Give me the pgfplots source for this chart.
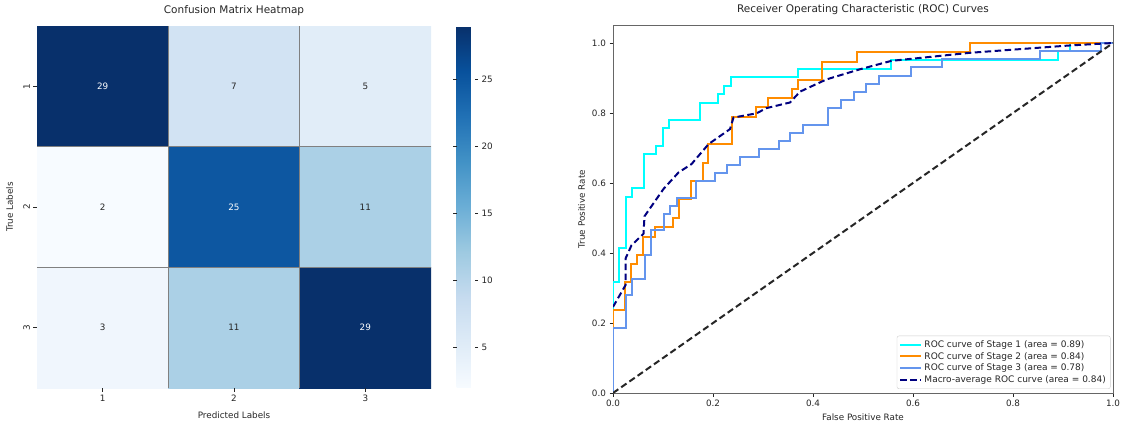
\documentclass[border=0pt]{standalone}
\usepackage{fontspec}
\setmainfont{DejaVu Sans}
\usepackage{pgfplots}
\pgfplotsset{compat=1.18}
\definecolor{txt}{RGB}{38,38,38}
\definecolor{rocaqua}{RGB}{0,255,255}
\definecolor{rocorange}{RGB}{255,140,0}
\definecolor{rocblue}{RGB}{100,149,237}
\definecolor{rocnavy}{RGB}{0,0,128}
\begin{document}
\begin{tikzpicture}
\useasboundingbox (0,0) rectangle (1125pt,421pt);
\begin{axis}[
  at={(37pt,33pt)}, anchor=south west,
  scale only axis, width=394pt, height=362pt,
  xmin=0.5, xmax=3.5, ymin=0.5, ymax=3.5, y dir=reverse,
  xtick={1,2,3}, ytick={1,2,3},
  yticklabel style={rotate=90},
  tick align=outside, tick pos=left,
  major tick length=3.5pt,
  tick style={draw=txt, line width=0.6pt},
  axis line style={draw=none},
  ticklabel style={font=\fontsize{8.8}{10}\selectfont, text=txt},
  /pgf/number format/assume math mode=true,
  title={Confusion Matrix Heatmap},
  title style={font=\fontsize{10.5}{12}\selectfont, text=txt, yshift=1pt},
  xlabel={Predicted Labels}, ylabel={True Labels},
  label style={font=\fontsize{8.8}{10}\selectfont, text=txt},
  axis on top,
  colormap={blues}{rgb255=(247,251,255) rgb255=(222,235,247) rgb255=(198,219,239) rgb255=(158,202,225) rgb255=(107,174,214) rgb255=(66,146,198) rgb255=(33,113,181) rgb255=(8,81,156) rgb255=(8,48,107)},
  point meta min=2, point meta max=29,
  colorbar,
  colorbar style={
    at={(parent axis.north east)}, anchor=north west, xshift=17pt,
    width=18pt, height=362pt, scale only axis,
    ytick={5,10,15,20,25},
    axis line style={draw=none},
    tick align=outside, major tick length=3.5pt,
    ytick style={draw=txt, line width=0.6pt},
    yticklabel style={font=\fontsize{8.8}{10}\selectfont, text=txt},
    /pgf/number format/assume math mode=true,
  },
  extra x ticks={1.5,2.5}, extra x tick labels={},
  extra y ticks={1.5,2.5}, extra y tick labels={},
  extra tick style={grid=major, major grid style={draw=gray, line width=1pt}, major tick length=0pt},
]
\addplot[matrix plot, mesh/cols=3, point meta=explicit] table[meta=c] {
x y c
1 1 29
2 1 7
3 1 5
1 2 2
2 2 25
3 2 11
1 3 3
2 3 11
3 3 29
};
\addplot[only marks, mark=text, text mark={}, nodes near coords, point meta=explicit symbolic, nodes near coords align=center, every node near coord/.append style={font=\fontsize{8.8}{10}\selectfont, text=white}] table[meta=c] {
x y c
1 1 29
2 2 25
3 3 29
};
\addplot[only marks, mark=text, text mark={}, nodes near coords, point meta=explicit symbolic, nodes near coords align=center, every node near coord/.append style={font=\fontsize{8.8}{10}\selectfont, text=txt}] table[meta=c] {
x y c
2 1 7
3 1 5
1 2 2
3 2 11
1 3 3
2 3 11
};
\end{axis}

\begin{axis}[
  at={(613pt,28pt)}, anchor=south west,
  scale only axis, width=500pt, height=367.5pt,
  xmin=0, xmax=1, ymin=0, ymax=1.05,
  xtick={0,0.2,0.4,0.6,0.8,1}, ytick={0,0.2,0.4,0.6,0.8,1},
  xticklabel style={/pgf/number format/.cd, fixed, fixed zerofill, precision=1},
  yticklabel style={/pgf/number format/.cd, fixed, fixed zerofill, precision=1},
  /pgf/number format/assume math mode=true,
  tick align=outside, tick pos=left,
  major tick length=3.5pt,
  tick style={draw=txt, line width=0.6pt},
  axis line style={draw=black!60, line width=0.7pt},
  ticklabel style={font=\fontsize{8.8}{10}\selectfont, text=txt},
  title={Receiver Operating Characteristic (ROC) Curves},
  title style={font=\fontsize{10.5}{12}\selectfont, text=txt, yshift=1pt},
  xlabel={False Positive Rate}, ylabel={True Positive Rate},
  label style={font=\fontsize{8.8}{10}\selectfont, text=txt},
  legend style={at={(0.995,0.011)}, anchor=south east, draw=black!20, rounded corners=2pt, font=\fontsize{9}{10.5}\selectfont, text=txt, row sep=-0.5pt, inner sep=2.5pt},
  legend cell align=left,
  legend image code/.code={\draw[#1] (0pt,0pt) -- (21pt,0pt);},
]
\addplot[rocaqua, line width=2pt] coordinates {
(0,0) (0,0.317) (0.012,0.317) (0.012,0.415) (0.025,0.415) (0.025,0.561) (0.037,0.561) (0.037,0.585) (0.062,0.585) (0.062,0.683) (0.086,0.683) (0.086,0.707) (0.099,0.707) (0.099,0.756) (0.111,0.756) (0.111,0.780) (0.173,0.780) (0.173,0.829) (0.210,0.829) (0.210,0.854) (0.222,0.854) (0.222,0.878) (0.235,0.878) (0.235,0.902) (0.370,0.902) (0.370,0.927) (0.556,0.927) (0.556,0.951) (0.889,0.951) (0.889,0.976) (0.914,0.976) (0.914,1) (1,1)
};
\addlegendentry{ROC curve of Stage 1 (area = 0.89)}
\addplot[rocorange, line width=2pt] coordinates {
(0,0) (0,0.237) (0.024,0.237) (0.024,0.316) (0.036,0.316) (0.036,0.368) (0.048,0.368) (0.048,0.395) (0.060,0.395) (0.060,0.447) (0.083,0.447) (0.083,0.474) (0.119,0.474) (0.119,0.500) (0.131,0.500) (0.131,0.553) (0.155,0.553) (0.155,0.605) (0.179,0.605) (0.179,0.658) (0.190,0.658) (0.190,0.711) (0.238,0.711) (0.238,0.789) (0.286,0.789) (0.286,0.816) (0.310,0.816) (0.310,0.842) (0.357,0.842) (0.357,0.868) (0.369,0.868) (0.369,0.895) (0.417,0.895) (0.417,0.947) (0.488,0.947) (0.488,0.974) (0.714,0.974) (0.714,1) (1,1)
};
\addlegendentry{ROC curve of Stage 2 (area = 0.84)}
\addplot[rocblue, line width=2pt] coordinates {
(0,0) (0,0.186) (0.025,0.186) (0.025,0.279) (0.038,0.279) (0.038,0.326) (0.063,0.326) (0.063,0.395) (0.076,0.395) (0.076,0.465) (0.101,0.465) (0.101,0.512) (0.114,0.512) (0.114,0.535) (0.127,0.535) (0.127,0.558) (0.165,0.558) (0.165,0.605) (0.203,0.605) (0.203,0.628) (0.228,0.628) (0.228,0.651) (0.253,0.651) (0.253,0.674) (0.291,0.674) (0.291,0.698) (0.332,0.698) (0.332,0.721) (0.354,0.721) (0.354,0.744) (0.380,0.744) (0.380,0.767) (0.430,0.767) (0.430,0.814) (0.456,0.814) (0.456,0.837) (0.481,0.837) (0.481,0.860) (0.506,0.860) (0.506,0.884) (0.532,0.884) (0.532,0.907) (0.595,0.907) (0.595,0.930) (0.658,0.930) (0.658,0.953) (0.853,0.953) (0.853,0.977) (0.975,0.977) (0.975,1) (1,1)
};
\addlegendentry{ROC curve of Stage 3 (area = 0.78)}
\addplot[rocnavy, line width=2pt, dash pattern=on 6.5pt off 3.5pt] coordinates {
(0,0.246) (0.025,0.308) (0.025,0.384) (0.037,0.422) (0.061,0.455) (0.063,0.505) (0.101,0.583) (0.131,0.630) (0.157,0.654) (0.191,0.711) (0.234,0.754) (0.241,0.787) (0.287,0.799) (0.307,0.814) (0.354,0.830) (0.374,0.861) (0.427,0.896) (0.494,0.925) (0.557,0.949) (0.714,0.972) (0.914,0.993) (1,1)
};
\addlegendentry{Macro-average ROC curve (area = 0.84)}
\addplot[black!85, line width=2pt, dash pattern=on 6.5pt off 3.5pt, forget plot] coordinates {(0,0) (1,1)};
\end{axis}
\end{tikzpicture}
\end{document}
